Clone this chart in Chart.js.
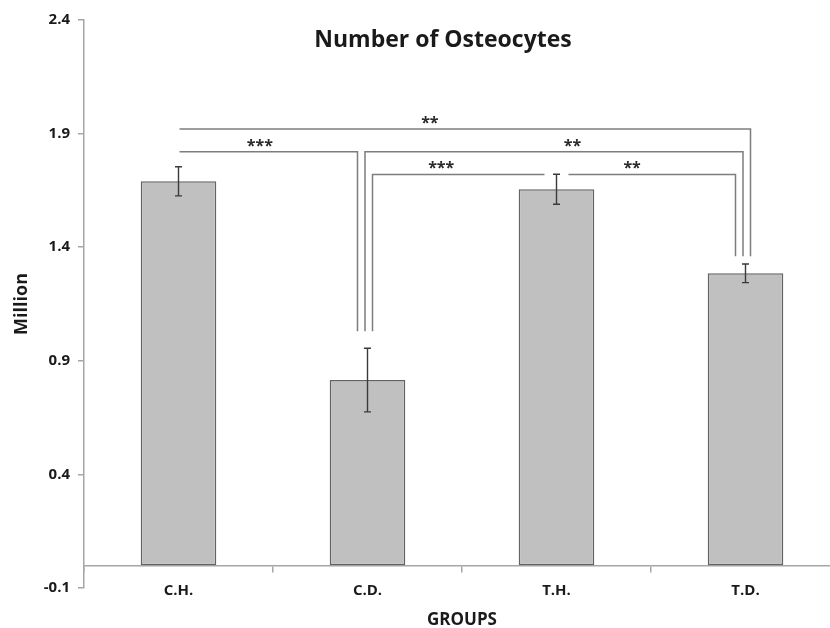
<!DOCTYPE html>
<html>
<head>
<meta charset="utf-8">
<script src="https://cdn.jsdelivr.net/npm/chart.js@4.4.1/dist/chart.umd.min.js"></script>
<style>
  html, body { margin: 0; padding: 0; background: #fff; overflow: hidden; }
  #wrap { width: 830px; height: 628px; overflow: hidden; position: relative; }
  canvas { display: block; }
</style>
</head>
<body>
<div id="wrap"><canvas id="c" width="850" height="628"></canvas></div>
<script>
// Osteocyte counts (millions) per group, mean and error
const groups = ['C.H.', 'C.D.', 'T.H.', 'T.D.'];
const means  = [1.69, 0.815, 1.655, 1.285];
const errors = [0.064, 0.14, 0.066, 0.041];
const yTicks = [-0.1, 0.4, 0.9, 1.4, 1.9, 2.4];

// Significance brackets: compared groups, bracket height, stars, star anchor (category units)
const bracketPairs   = [[0, 3], [0, 1], [1, 3], [1, 2], [2, 3]];
const bracketLevels  = [1.92, 1.82, 1.82, 1.72, 1.72];
const bracketStars   = ['**', '***', '**', '***', '**'];
const bracketLabelAt = [1.33, 0.43, 2.085, 1.39, 2.4];
// Where bracket legs stop above each group (null: no legs drop to that group)
const legBottoms = [null, 1.03, null, 1.36];

const FONT = '"Open Sans"';
const INK = '#1a1a1a';

const errorBars = {
  id: 'errorBars',
  afterDatasetsDraw(chart) {
    const { ctx } = chart;
    const meta = chart.getDatasetMeta(0);
    const y = chart.scales.y;
    ctx.save();
    ctx.strokeStyle = '#3a3a3a';
    ctx.lineWidth = 1.4;
    meta.data.forEach((bar, i) => {
      const top = y.getPixelForValue(means[i] + errors[i]);
      const bot = y.getPixelForValue(means[i] - errors[i]);
      const cx = bar.x;
      ctx.beginPath();
      ctx.moveTo(cx, top); ctx.lineTo(cx, bot);
      ctx.moveTo(cx - 3.5, top); ctx.lineTo(cx + 3.5, top);
      ctx.moveTo(cx - 3.5, bot); ctx.lineTo(cx + 3.5, bot);
      ctx.stroke();
    });
    ctx.restore();
  }
};

const brackets = {
  id: 'brackets',
  afterDatasetsDraw(chart) {
    const { ctx } = chart;
    const x = chart.scales.x, y = chart.scales.y;
    const spacing = 7.5;

    // side-by-side leg slots at each group: incoming (low to high), then outgoing (high to low)
    const slot = {};
    groups.forEach((g, gi) => {
      if (legBottoms[gi] === null) return;
      const incoming = [], outgoing = [];
      bracketPairs.forEach((p, b) => {
        if (p[1] === gi) incoming.push(b);
        if (p[0] === gi) outgoing.push(b);
      });
      incoming.sort((a, b) => bracketLevels[a] - bracketLevels[b]);
      outgoing.sort((a, b) => bracketLevels[b] - bracketLevels[a]);
      const order = incoming.concat(outgoing);
      order.forEach((b, k) => {
        slot[b + ':' + gi] = (k - (order.length - 1) / 2) * spacing - 2.5;
      });
    });

    ctx.save();
    ctx.strokeStyle = '#7d7d7d';
    ctx.lineWidth = 1.5;
    ctx.fillStyle = '#2a2a2a';
    ctx.font = 'bold 16px ' + FONT;
    ctx.textAlign = 'center';
    ctx.textBaseline = 'alphabetic';

    bracketPairs.forEach((pair, b) => {
      const ly = y.getPixelForValue(bracketLevels[b]);
      const ends = pair.map((gi, side) => {
        const cx = x.getPixelForValue(gi);
        if (legBottoms[gi] !== null) {
          return { x: cx + slot[b + ':' + gi], leg: y.getPixelForValue(legBottoms[gi]) };
        }
        // stop short of an error bar that reaches the bracket
        const capTop = means[gi] + errors[gi];
        const gap = capTop >= bracketLevels[b] - 0.02 ? 12 : 1;
        return { x: side === 0 ? cx + gap : cx - gap, leg: null };
      });
      ctx.beginPath();
      if (ends[0].leg !== null) { ctx.moveTo(ends[0].x, ends[0].leg); ctx.lineTo(ends[0].x, ly); }
      else ctx.moveTo(ends[0].x, ly);
      ctx.lineTo(ends[1].x, ly);
      if (ends[1].leg !== null) ctx.lineTo(ends[1].x, ends[1].leg);
      ctx.stroke();
      ctx.fillText(bracketStars[b], x.getPixelForValue(bracketLabelAt[b]), ly - 1);
    });
    ctx.restore();
  }
};

const chartTitle = {
  id: 'chartTitle',
  afterDraw(chart) {
    const { ctx } = chart;
    ctx.save();
    ctx.fillStyle = INK;
    ctx.font = 'bold 23px ' + FONT;
    ctx.textAlign = 'center';
    ctx.textBaseline = 'alphabetic';
    ctx.fillText('Number of Osteocytes', 443, 47);
    ctx.restore();
  }
};

new Chart(document.getElementById('c'), {
  type: 'bar',
  data: {
    labels: groups,
    datasets: [{
      data: means,
      backgroundColor: '#c0c0c0',
      borderColor: '#636363',
      borderWidth: 1.5,
      borderSkipped: false,
      barPercentage: 0.4,
      categoryPercentage: 1.0
    }]
  },
  options: {
    responsive: false,
    animation: false,
    layout: { padding: { top: 20, right: 10, bottom: 40, left: 0 } },
    plugins: { legend: { display: false }, tooltip: { enabled: false }, title: { display: false } },
    scales: {
      x: {
        position: { y: 0 },
        offset: true,
        grid: { drawOnChartArea: false, drawTicks: true, tickLength: 6, color: '#a6a6a6', lineWidth: 1.5, offset: true },
        border: { color: '#a6a6a6', width: 1.5 },
        ticks: { padding: 10, color: INK, font: { family: FONT, size: 15, weight: 'bold' }, maxRotation: 0 },
        title: { display: true, text: 'GROUPS', color: INK, font: { family: FONT, size: 17, weight: 'bold' }, padding: { top: 1, bottom: 0 } }
      },
      y: {
        min: -0.1,
        max: 2.4,
        afterBuildTicks: s => { s.ticks = yTicks.map(v => ({ value: v })); },
        afterFit: s => { s.width = 84; },
        grid: { drawOnChartArea: false, drawTicks: true, tickLength: 6, color: '#a6a6a6', lineWidth: 1.5 },
        border: { color: '#a6a6a6', width: 1.5 },
        ticks: { padding: 8, color: INK, font: { family: FONT, size: 15, weight: 'bold' }, callback: v => Number(v).toFixed(1) },
        title: { display: true, text: 'Million', color: INK, font: { family: FONT, size: 18, weight: 'bold' }, padding: { top: 11, bottom: 0 } }
      }
    }
  },
  plugins: [errorBars, brackets, chartTitle]
});
</script>
</body>
</html>
